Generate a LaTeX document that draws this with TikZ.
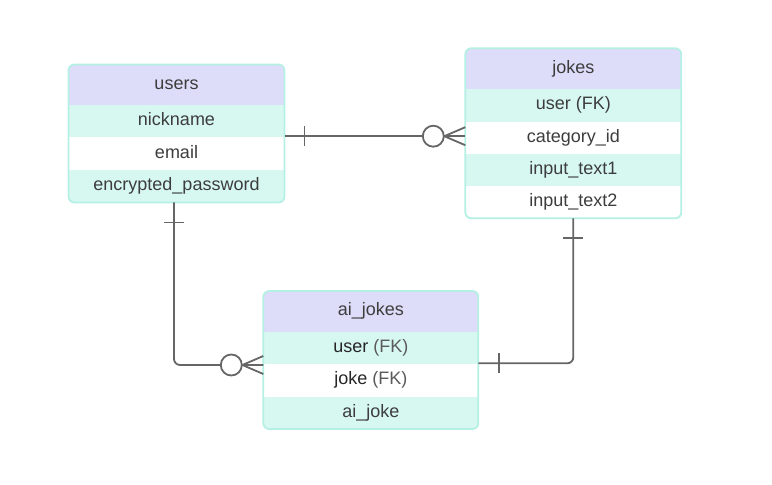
\documentclass[tikz,border=0pt]{standalone}
\usepackage{fontspec}
\setmainfont{Liberation Sans}
\usetikzlibrary{positioning,calc}
\definecolor{hdrfill}{HTML}{DDDDFA}
\definecolor{rowfill}{HTML}{D7F8F1}
\definecolor{tblline}{HTML}{B5F0E4}
\definecolor{relline}{HTML}{666666}
\definecolor{txt}{HTML}{3D3D3D}
\definecolor{fktxt}{HTML}{5A5A5A}

\begin{document}
\begin{tikzpicture}[x=1bp,y=-1bp,
        tbl/.style={minimum width=216bp,inner sep=0pt,outer sep=0pt,fill=white},
        hdr/.style={tbl,minimum height=40.5bp,fill=hdrfill},
        keyrow/.style={tbl,minimum height=32.5bp,fill=rowfill},
        plainrow/.style={tbl,minimum height=32.5bp,fill=white},
        border/.style={draw=tblline,line width=1.8bp,rounded corners=6bp},
        rel/.style={draw=relline,line width=1.8bp}]
    \useasboundingbox (0,0) rectangle (772,485);
    \tikzset{every node/.append style={text=txt,font=\fontsize{18bp}{21bp}\selectfont,
        text height=13bp,text depth=4bp}}

    % tables
    \node [tbl,minimum height=138bp] (users) at (176.5,133.5) {};
    \node [tbl,minimum height=170bp] (jokes) at (573.3,133.3) {};
    \node [tbl,minimum height=138bp,minimum width=215bp] (ai) at (370.8,360) {};

    \begin{scope}
        \clip [rounded corners=6bp] (users.north west) rectangle (users.south east);
        \node [hdr,below=0pt of users.north] (users-h) {users};
        \node [keyrow,below=0pt of users-h] (users-1) {nickname};
        \node [plainrow,below=0pt of users-1] (users-2) {email};
        \node [keyrow,below=0pt of users-2] (users-3) {encrypted\_password};
    \end{scope}
    \draw [border] (users.north west) rectangle (users.south east);

    \begin{scope}[hdr/.append style={minimum height=41bp},
                  keyrow/.append style={minimum height=32.25bp},
                  plainrow/.append style={minimum height=32.25bp}]
        \clip [rounded corners=6bp] (jokes.north west) rectangle (jokes.south east);
        \node [hdr,below=0pt of jokes.north] (jokes-h) {jokes};
        \node [keyrow,below=0pt of jokes-h] (jokes-1) {user (FK)};
        \node [plainrow,below=0pt of jokes-1] (jokes-2) {category\_id};
        \node [keyrow,below=0pt of jokes-2] (jokes-3) {input\_text1};
        \node [plainrow,below=0pt of jokes-3] (jokes-4) {input\_text2};
    \end{scope}
    \draw [border] (jokes.north west) rectangle (jokes.south east);

    \begin{scope}[every node/.append style={minimum width=215bp}]
        \clip [rounded corners=6bp] (ai.north west) rectangle (ai.south east);
        \node [hdr,below=0pt of ai.north] (ai-h) {ai\_jokes};
        \node [keyrow,below=0pt of ai-h] (ai-1) {\textcolor{black!85}{user} \textcolor{fktxt}{(FK)}};
        \node [plainrow,below=0pt of ai-1] (ai-2) {\textcolor{black!85}{joke} \textcolor{fktxt}{(FK)}};
        \node [keyrow,below=0pt of ai-2] (ai-3) {ai\_joke};
    \end{scope}
    \draw [border] (ai.north west) rectangle (ai.south east);

    % users -- jokes
    \coordinate (u1) at ([yshift=-2.7bp]users.east);
    \coordinate (j1) at (u1 -| jokes.west);
    \draw [rel] (u1) -- (j1);
    \draw [rel] ($(u1)+(20,-10)$) -- ($(u1)+(20,10)$);
    \draw [rel] ($(j1)+(-21,0)$) -- ($(j1)+(0,-9)$);
    \draw [rel] ($(j1)+(-21,0)$) -- ($(j1)+(0,9)$);
    \draw [rel,fill=white] ($(j1)+(-32,0)$) circle (10.5bp);

    % users -- ai_jokes
    \coordinate (u2) at ([xshift=-2.5bp]users.south);
    \coordinate (a2) at ([yshift=-5bp]ai.west);
    \draw [rel,rounded corners=6bp] (u2) |- (a2);
    \draw [rel] ($(u2)+(-10,20)$) -- ($(u2)+(10,20)$);
    \draw [rel] ($(a2)+(-21,0)$) -- ($(a2)+(0,-9)$);
    \draw [rel] ($(a2)+(-21,0)$) -- ($(a2)+(0,9)$);
    \draw [rel,fill=white] ($(a2)+(-32,0)$) circle (10.5bp);

    % jokes -- ai_jokes
    \coordinate (a3) at ([yshift=-3.3bp]ai.east);
    \draw [rel,rounded corners=6bp] (jokes.south) |- (a3);
    \draw [rel] ($(jokes.south)+(-10,20)$) -- ($(jokes.south)+(10,20)$);
    \draw [rel] ($(a3)+(21,-10)$) -- ($(a3)+(21,10)$);
\end{tikzpicture}
\end{document}
